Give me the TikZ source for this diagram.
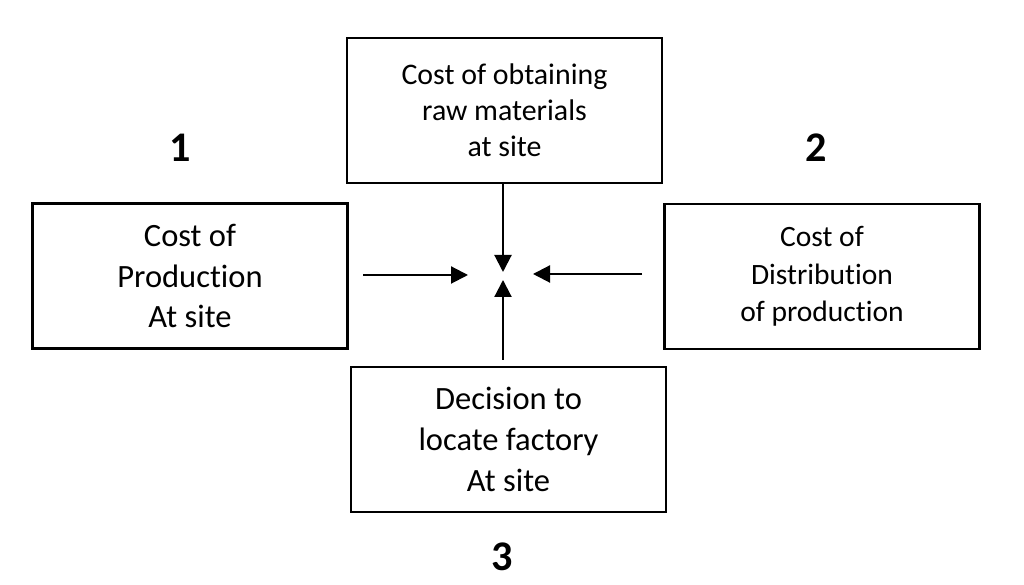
\documentclass[tikz,border=0pt]{standalone}
\usepackage{fontspec}
\setmainfont{Carlito}[Ligatures=NoCommon]
\usetikzlibrary{arrows.meta}

\begin{document}
\begin{tikzpicture}[
  factor/.style={draw, line width=1.3pt, minimum width=6.3cm, minimum height=2.9cm, align=center, inner sep=0pt},
  flow/.style={line width=1.2pt, -{Triangle[length=3.4mm, width=3.4mm]}},
  num/.style={font=\fontsize{24}{28}\selectfont\bfseries}
]
\useasboundingbox (0,0) rectangle (20.48,11.7);

\node[factor, font=\fontsize{17}{20.4}\selectfont] (raw) at (10.09, 9.49) {Cost of obtaining\\raw materials\\at site};
\node[factor, font=\fontsize{18.5}{23}\selectfont] (prod) at (3.8, 6.18) {Cost of\\Production\\At site};
\node[factor, font=\fontsize{16.8}{21.3}\selectfont] (dist) at (16.44, 6.17) {Cost of\\Distribution\\of production};
\node[factor, font=\fontsize{18.5}{23.2}\selectfont] (decide) at (10.17, 2.91) {Decision to\\locate factory\\At site};

\node[num] (one) at (3.6, 8.74) {1};
\node[num] (two) at (16.32, 8.74) {2};
\node[num] (three) at (10.04, 0.56) {3};

% arrows meeting at the centre
\coordinate (lfrom) at (7.26, 6.2);
\coordinate (lto) at (9.36, 6.2);
\coordinate (rfrom) at (12.84, 6.22);
\coordinate (rto) at (10.66, 6.22);
\coordinate (tto) at (10.06, 6.26);
\coordinate (bfrom) at (10.06, 4.5);
\coordinate (bto) at (10.06, 6.10);

\draw[flow] (lfrom) -- (lto);
\draw[flow] (rfrom) -- (rto);
\draw[flow] (raw.south -| tto) -- (tto);
\draw[flow] (bfrom) -- (bto);
\end{tikzpicture}
\end{document}
